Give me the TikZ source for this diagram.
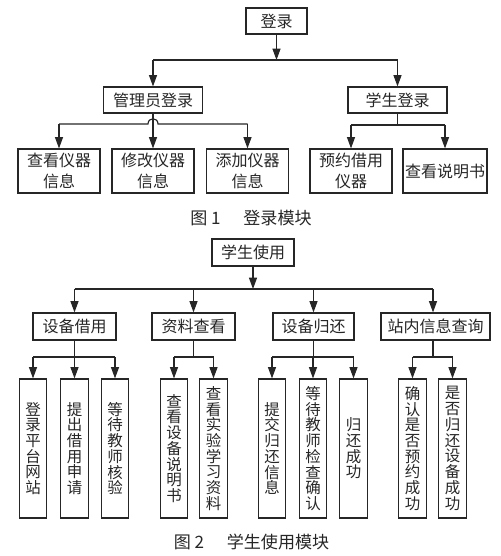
\documentclass[tikz,border=0pt]{standalone}
\usepackage{fontspec}
\setmainfont{Noto Sans CJK SC}
\usetikzlibrary{arrows.meta}
\definecolor{ink}{HTML}{262626}
\begin{document}
\begin{tikzpicture}[x=0.75pt,y=-0.75pt,
  line/.style={draw=ink, line width=0.85pt},
  arr/.style={line, -{Triangle[width=6pt,length=8.5pt]}},
  box/.style={draw=ink, line width=0.85pt, inner sep=0pt, align=center, text=ink,
    font=\fontsize{12pt}{15.5pt}\selectfont},
  tbox/.style={box, minimum height=19.5pt},
  sbox/.style={box, minimum height=33pt, minimum width=61.5pt},
  hbox/.style={box, minimum height=20.25pt, minimum width=62.25pt},
  vbox/.style={box, minimum height=104.25pt, minimum width=20.5pt,
    font=\fontsize{11.6pt}{11.8pt}\selectfont},
  captext/.style={text=ink, font=\fontsize{12.8pt}{14pt}\selectfont, inner sep=0pt}]
\useasboundingbox (0,0) rectangle (500,556);

% ---------- Figure 1 ----------
\node[tbox, minimum width=45.75pt] (login) at (276.5,21) {登录};
\node[tbox, minimum width=74.25pt] (admin) at (153,100) {管理员登录};
\node[tbox, minimum width=74.25pt] (stu) at (397.5,100) {学生登录};
\node[sbox] (a1) at (59,171) {查看仪器\\信息};
\node[sbox] (a2) at (153,171) {修改仪器\\信息};
\node[sbox] (a3) at (247.5,171) {添加仪器\\信息};
\node[sbox] (s1) at (351,171) {预约借用\\仪器};
\node[sbox, minimum width=63pt] (s2) at (445,171) {查看说明书};

\coordinate (j1) at (276.5,60);
\draw[arr] (login.south) -- (j1);
\draw[line] (admin.north |- j1) -- (stu.north |- j1);
\draw[arr] (admin.north |- j1) -- (admin.north);
\draw[arr] (stu.north |- j1) -- (stu.north);

\coordinate (j2) at (153,124);
\coordinate (hopL) at (148,124);
\coordinate (hopR) at (158,124);
\draw[line] (a1.north |- j2) -- (hopL) .. controls (148,117) and (158,117) .. (hopR) -- (a3.north |- j2);
\draw[arr] (a1.north |- j2) -- (a1.north);
\draw[arr] (a3.north |- j2) -- (a3.north);
\draw[arr] (admin.south) -- (a2.north);

\coordinate (j3) at (397.5,125);
\draw[line] (stu.south) -- (j3);
\draw[line] (s1.north |- j3) -- (s2.north |- j3);
\draw[arr] (s1.north |- j3) -- (s1.north);
\draw[arr] (s2.north |- j3) -- (s2.north);

\node[captext] (cap1) at (251,218) {图 1\hspace{17pt}登录模块};

% ---------- Figure 2 ----------
\node[hbox, minimum width=61.5pt] (use) at (253,252.5) {学生使用};
\node[hbox] (m1) at (74.5,326.5) {设备借用};
\node[hbox] (m2) at (193.5,326.5) {资料查看};
\node[hbox, minimum width=60.75pt] (m3) at (313.5,326.5) {设备归还};
\node[hbox, minimum width=81.75pt] (m4) at (435.5,326.5) {站内信息查询};

\coordinate (k0) at (253,289);
\draw[arr] (use.south) -- (k0);
\draw[line] (m1.north |- k0) -- (433,289) coordinate (k4);
\draw[arr] (m1.north |- k0) -- (m1.north);
\draw[arr] (m2.north |- k0) -- (m2.north);
\draw[arr] (m3.north |- k0) -- (m3.north);
\draw[arr] (k4) -- (k4 |- m4.north);

\node[vbox] (b1) at (33,448.5) {登\\录\\平\\台\\网\\站};
\node[vbox] (b2) at (74.5,448.5) {提\\出\\借\\用\\申\\请};
\node[vbox] (b3) at (115,448.5) {等\\待\\教\\师\\核\\验};
\node[vbox] (c1) at (174,448.5) {查\\看\\设\\备\\说\\明\\书};
\node[vbox] (c2) at (213.5,448.5) {查\\看\\实\\验\\学\\习\\资\\料};
\node[vbox] (d1) at (272,448.5) {提\\交\\归\\还\\信\\息};
\node[vbox] (d2) at (313,448.5) {等\\待\\教\\师\\检\\查\\确\\认};
\node[vbox] (d3) at (353.5,448.5) {归\\还\\成\\功};
\node[vbox] (e1) at (412.5,448.5) {确\\认\\是\\否\\预\\约\\成\\功};
\node[vbox] (e2) at (452.5,448.5) {是\\否\\归\\还\\设\\备\\成\\功};

\coordinate (q1) at (74.5,357);
\draw[line] (m1.south) -- (q1);
\draw[line] (b1.north |- q1) -- (b3.north |- q1);
\foreach \n in {b1,b2,b3} \draw[arr] (\n.north |- q1) -- (\n.north);

\coordinate (q2) at (193.5,357);
\draw[line] (m2.south) -- (q2);
\draw[line] (c1.north |- q2) -- (c2.north |- q2);
\foreach \n in {c1,c2} \draw[arr] (\n.north |- q2) -- (\n.north);

\coordinate (q3) at (313,357);
\draw[line] (m3.south) -- (m3.south |- q3);
\draw[line] (d1.north |- q3) -- (d3.north |- q3);
\foreach \n in {d1,d2,d3} \draw[arr] (\n.north |- q3) -- (\n.north);

\coordinate (q4) at (433,357);
\draw[line] (k4 |- m4.south) -- (q4);
\draw[line] (e1.north |- q4) -- (e2.north |- q4);
\foreach \n in {e1,e2} \draw[arr] (\n.north |- q4) -- (\n.north);

\node[captext] (cap2) at (251.5,542) {图 2\hspace{17pt}学生使用模块};
\end{tikzpicture}
\end{document}
